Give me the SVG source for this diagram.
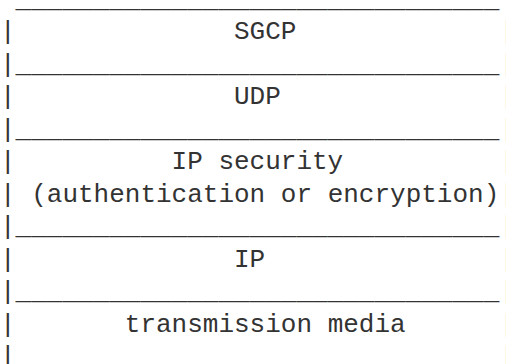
<svg xmlns="http://www.w3.org/2000/svg" width="506" height="364" viewBox="0 0 506 364">
<style>
text{font-family:"Liberation Mono","DejaVu Sans Mono",monospace;font-size:26px;fill:#333}
.r{fill:#bbb}
</style>
<rect width="506" height="364" fill="#fff"/>
<g id="top"><text x="15.6" y="6.5">_______________________________</text></g>
<g id="sgcp">
<text x="0" y="39">|</text><text x="234" y="39">SGCP</text><text class="r" x="499.2" y="39">|</text>
<text x="0" y="71.5">|</text><text x="15.6" y="71.5">_______________________________</text><text class="r" x="499.2" y="71.5">|</text>
</g>
<g id="udp">
<text x="0" y="104">|</text><text x="234" y="104">UDP</text><text class="r" x="499.2" y="104">|</text>
<text x="0" y="136.5">|</text><text x="15.6" y="136.5">_______________________________</text><text class="r" x="499.2" y="136.5">|</text>
</g>
<g id="ipsec">
<text x="0" y="169">|</text><text x="171.6" y="169">IP security</text><text class="r" x="499.2" y="169">|</text>
<text x="0" y="201.5">|</text><text x="31.2" y="201.5">(authentication or encryption)</text><text class="r" x="499.2" y="201.5">|</text>
<text x="0" y="234">|</text><text x="15.6" y="234">_______________________________</text><text class="r" x="499.2" y="234">|</text>
</g>
<g id="ip">
<text x="0" y="266.5">|</text><text x="234" y="266.5">IP</text><text class="r" x="499.2" y="266.5">|</text>
<text x="0" y="299">|</text><text x="15.6" y="299">_______________________________</text><text class="r" x="499.2" y="299">|</text>
</g>
<g id="media">
<text x="0" y="331.5">|</text><text x="124.8" y="331.5">transmission media</text><text class="r" x="499.2" y="331.5">|</text>
<text x="0" y="364">|</text><text class="r" x="499.2" y="364">|</text>
</g>
<g id="connectors"></g>
</svg>
